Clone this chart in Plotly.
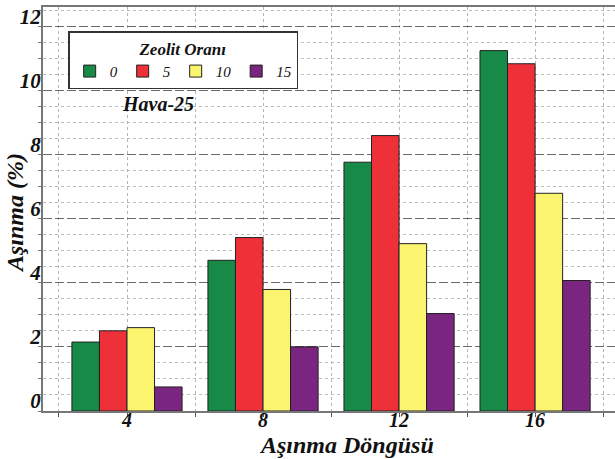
import plotly.graph_objects as go

cycles = [4, 8, 12, 16]
zeolit_labels = ["0", "5", "10", "15"]
wear_z0 = [2.15, 4.70, 7.76, 11.24]
wear_z5 = [2.50, 5.41, 8.59, 10.83]
wear_z10 = [2.60, 3.79, 5.22, 6.79]
wear_z15 = [0.75, 2.00, 3.04, 4.07]
series = [wear_z0, wear_z5, wear_z10, wear_z15]
colors = ["#178A47", "#EE3038", "#FBF46F", "#7A2580"]

x_tickvals = [2, 4, 6, 8, 10, 12, 14, 16, 18]
x_ticktext = ["", "4", "", "8", "", "12", "", "16", ""]
y_tickvals = [0, 2, 4, 6, 8, 10, 12]

SERIF = "Liberation Serif"

fig = go.Figure()
for vals, lab, col in zip(series, zeolit_labels, colors):
    fig.add_trace(go.Bar(
        x=cycles, y=vals, name=lab,
        marker=dict(color=col, line=dict(color="#222222", width=1)),
    ))

fig.update_layout(
    width=615, height=459,
    margin=dict(l=43, r=0, t=7, b=48),
    paper_bgcolor="white", plot_bgcolor="white",
    barmode="group", bargap=0.19, bargroupgap=0,
    font=dict(family=SERIF, color="#111111"),
    showlegend=True,
    legend=dict(
        orientation="h",
        x=0.044, y=0.94, xanchor="left", yanchor="top",
        bgcolor="white", bordercolor="#333333", borderwidth=1.5,
        title=dict(text="Zeolit Oranı", side="top center",
                   font=dict(family=SERIF, size=17, style="italic", weight="bold")),
        font=dict(family=SERIF, size=15, style="italic"),
        itemwidth=30,
        tracegroupgap=0,
    ),
    xaxis=dict(
        range=[1.53, 18.35],
        tickmode="array", tickvals=x_tickvals, ticktext=x_ticktext,
        ticks="outside", ticklen=4, tickcolor="#555555",
        ticklabelstandoff=-14,
        showgrid=True, gridcolor="#b5b5b5", griddash="3px,3px", gridwidth=1,
        showline=True, linecolor="#777777", linewidth=2, mirror=True,
        tickfont=dict(family=SERIF, size=20, style="italic", weight="bold", color="#111111"),
        zeroline=False, automargin=False,
    ),
    yaxis=dict(
        range=[0, 12.6],
        tickmode="array", tickvals=y_tickvals,
        ticks="",
        ticklabelshift=-10, ticklabelstandoff=-4,
        showgrid=True, gridcolor="#6a6a6a", griddash="9px,3px", gridwidth=1,
        minor=dict(dtick=0.5, showgrid=True, gridcolor="#bdbdbd", griddash="3px,3px",
                   ticks="outside", ticklen=3, tickcolor="#777777"),
        showline=True, linecolor="#777777", linewidth=2,
        tickfont=dict(family=SERIF, size=21, style="italic", weight="bold", color="#111111"),
        zeroline=False, automargin=False,
    ),
    annotations=[
        dict(text="Hava-25", x=4.91, y=9.58, xref="x", yref="y", showarrow=False,
             xanchor="center", yanchor="middle",
             font=dict(family=SERIF, size=20, style="italic", weight="bold", color="#111111")),
        dict(text="Aşınma Döngüsü", x=10.44, y=-0.083, xref="x", yref="paper",
             showarrow=False, xanchor="center", yanchor="middle",
             font=dict(family=SERIF, size=24, style="italic", weight="bold", color="#111111")),
        dict(text="Aşınma (%)", x=-0.049, y=0.49, xref="paper", yref="paper",
             showarrow=False, textangle=-90, xanchor="center", yanchor="middle",
             font=dict(family=SERIF, size=24, style="italic", weight="bold", color="#111111")),
    ],
)

fig.write_html("out.html", config={"displayModeBar": False},
               post_script="document.body.style.margin='0';")
